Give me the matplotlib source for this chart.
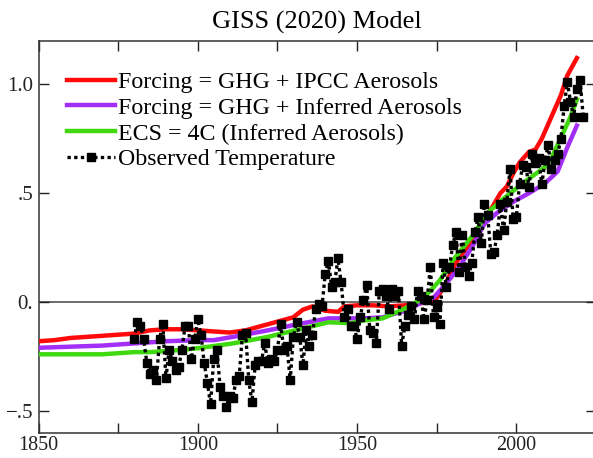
import matplotlib
matplotlib.use("Agg")
import matplotlib.pyplot as plt
import numpy as np

plt.rcParams['font.family'] = ['Liberation Serif', 'DejaVu Serif']

# ---- data ----
red_years = [1850, 1855, 1860, 1865, 1870, 1875, 1880, 1885, 1890, 1895, 1900, 1905, 1910, 1915,
             1920, 1925, 1930, 1933, 1936, 1940, 1944, 1946, 1950, 1955, 1960, 1965, 1970, 1974,
             1976, 1978, 1981, 1985, 1988, 1991, 1995, 1997, 1999, 2001, 2004, 2006, 2008, 2011,
             2014, 2016, 2019]
red_vals = [-0.18, -0.175, -0.165, -0.16, -0.155, -0.15, -0.145, -0.13, -0.125, -0.125, -0.13, -0.135,
            -0.14, -0.13, -0.11, -0.09, -0.07, -0.035, -0.02, -0.04, -0.045, -0.02, -0.015, -0.015,
            -0.02, -0.015, -0.005, 0.0, 0.04, 0.09, 0.18, 0.26, 0.33, 0.40, 0.50, 0.53, 0.59, 0.64,
            0.69, 0.70, 0.75, 0.85, 0.95, 1.04, 1.12]

purple_years = [1850, 1860, 1870, 1880, 1890, 1900, 1905, 1911, 1922, 1932, 1941, 1948, 1952, 1958,
                1965, 1970, 1974, 1978, 1982, 1986, 1990, 1994, 1999, 2004, 2009, 2013, 2016, 2019]
purple_vals = [-0.21, -0.205, -0.2, -0.19, -0.18, -0.175, -0.175, -0.16, -0.13, -0.10, -0.075, -0.075,
               -0.075, -0.07, -0.04, -0.005, 0.02, 0.085, 0.16, 0.25, 0.36, 0.41, 0.46, 0.50, 0.545,
               0.60, 0.71, 0.81]

green_years = [1850, 1860, 1870, 1880, 1885, 1895, 1901, 1911, 1922, 1932, 1941, 1948, 1952, 1958,
               1965, 1971, 1976, 1980, 1986, 1991, 1996, 2002, 2009, 2011, 2014, 2017, 2019]
green_vals = [-0.24, -0.24, -0.24, -0.23, -0.23, -0.22, -0.21, -0.19, -0.16, -0.125, -0.093, -0.097,
              -0.085, -0.075, -0.03, 0.02, 0.10, 0.19, 0.30, 0.41, 0.475, 0.545, 0.62, 0.66, 0.755,
              0.85, 0.93]

obs_years = list(range(1880, 2022))
obs_vals = [-0.17, -0.09, -0.11, -0.17, -0.28, -0.33, -0.31, -0.36, -0.17, -0.10,
            -0.35, -0.22, -0.27, -0.31, -0.30, -0.22, -0.11, -0.11, -0.26, -0.17,
            -0.08, -0.15, -0.28, -0.37, -0.47, -0.26, -0.22, -0.39, -0.43, -0.48,
            -0.43, -0.44, -0.36, -0.34, -0.15, -0.14, -0.36, -0.46, -0.29, -0.27,
            -0.27, -0.19, -0.28, -0.26, -0.27, -0.22, -0.10, -0.22, -0.20, -0.36,
            -0.16, -0.09, -0.16, -0.29, -0.13, -0.20, -0.15, -0.03, -0.01, -0.02,
            0.13, 0.19, 0.07, 0.09, 0.20, 0.09, -0.07, -0.03, -0.11, -0.11,
            -0.17, -0.07, 0.01, 0.08, -0.13, -0.14, -0.19, 0.05, 0.06, 0.03,
            -0.03, 0.06, 0.03, 0.05, -0.20, -0.11, -0.06, -0.02, -0.08, 0.05,
            0.03, -0.08, 0.01, 0.16, -0.07, -0.01, -0.10, 0.18, 0.07, 0.16,
            0.26, 0.32, 0.14, 0.31, 0.16, 0.12, 0.18, 0.32, 0.39, 0.27,
            0.45, 0.40, 0.22, 0.23, 0.31, 0.45, 0.33, 0.46, 0.61, 0.38,
            0.39, 0.54, 0.63, 0.62, 0.53, 0.68, 0.64, 0.66, 0.54, 0.65,
            0.72, 0.61, 0.65, 0.68, 0.75, 0.90, 1.01, 0.92, 0.85, 0.98,
            1.02, 0.85]

labels = ["Forcing = GHG + IPCC Aerosols", "Forcing = GHG + Inferred Aerosols",
          "ECS = 4C (Inferred Aerosols)", "Observed Temperature"]
x_ticks = [1850, 1875, 1900, 1925, 1950, 1975, 2000, 2025]
x_ticklabels = ["1850", "", "1900", "", "1950", "", "2000", ""]
y_ticks = [-0.5, 0.0, 0.5, 1.0]
y_ticklabels = ["\u2212.5", "0.", ".5", "1.0"]

# ---- figure ----
fig = plt.figure(figsize=(5.93, 4.58), dpi=100)
ax = fig.add_axes([0.065, 0.0552, 0.940, 0.856])

ax.axhline(0, color='#444444', lw=1.1, zorder=1)
ax.plot(red_years, red_vals, color='#ff0a0a', lw=3.2, label=labels[0], zorder=3)
ax.plot(purple_years, purple_vals, color='#a32ef7', lw=3.2, label=labels[1], zorder=3)
ax.plot(green_years, green_vals, color='#40d80f', lw=3.2, label=labels[2], zorder=3)
ax.plot(obs_years, obs_vals, color='black', lw=2.4, linestyle=(0, (1, 1)),
        marker='s', markersize=6, label=labels[3], zorder=4)

ax.set_xlim(1850, 2025)
ax.set_ylim(-0.6, 1.2)
ax.set_xticks(x_ticks)
ax.set_xticklabels(x_ticklabels)
ax.set_yticks(y_ticks)
ax.set_yticklabels(y_ticklabels)
ax.tick_params(direction='in', length=7, width=1.0, colors='#222222', labelsize=15,
               top=True, right=True)
ax.tick_params(axis='x', pad=2.5, labelsize=14.5)
ax.tick_params(axis='y', pad=4)
for s in ax.spines.values():
    s.set_linewidth(1.1)
    s.set_color('#333333')

ax.set_title("GISS (2020) Model", fontsize=19, pad=9)

leg = ax.legend(loc='upper left', frameon=False, fontsize=17.2, handlelength=2.0,
                handletextpad=0.13, labelspacing=0.17, borderaxespad=0.0, borderpad=0.0,
                numpoints=1, bbox_to_anchor=(0.051, 0.922))

fig.savefig("out.png", dpi=100)
